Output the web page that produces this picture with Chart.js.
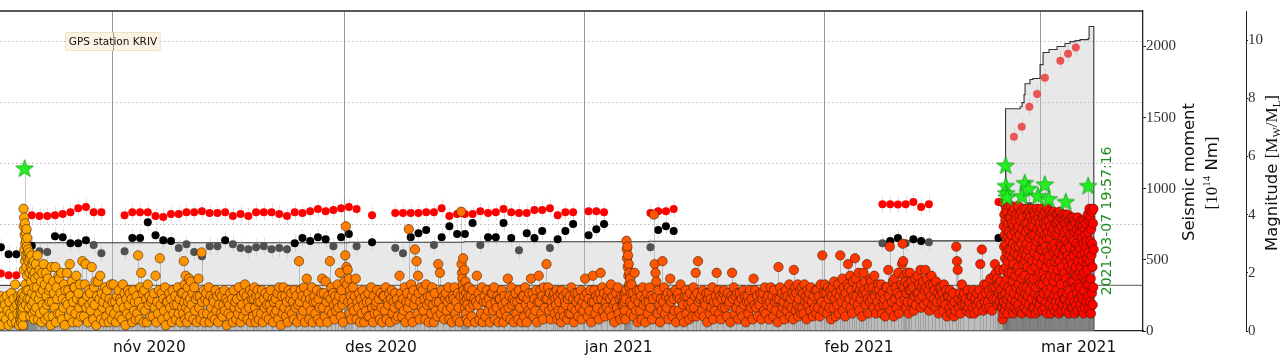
<!DOCTYPE html>
<html><head><meta charset="utf-8">
<script src="https://cdn.jsdelivr.net/npm/chart.js"></script>
<style>html,body{margin:0;padding:0;background:#fff}canvas{display:block}</style>
</head><body>
<canvas id="c" width="1288" height="360"></canvas>
<script>
// ---------- data ----------
// time unit: days since 2020-11-01 00:00
const monthDays = [0, 30, 61, 92, 120];
const monthLabels = ['nóv 2020', 'des 2020', 'jan 2021', 'feb 2021', 'mar 2021'];
const momentTicks = [0, 500, 1000, 1500, 2000];
const magTicks = [0, 2, 4, 6, 8, 10];
const gpsGridTicks = [0, 20, 40, 60, 80];
const xRange = [-14.61, 133.19];
const endDay = 126.83;
const endLabel = '2021-03-07 19:57:16';
const gpsLabel = 'GPS station KRIV';
const gpsLabelAt = [0, 80];

// earthquake magnitudes, one list per day (first day of each block given)
const octStart = -15;
const magOct = [
[0.3,1.0,0.6,1.2,0.2,0.8,0.5,1.1],
[0.9,0.4,1.2,0.7,0.2,1.0,0.6,1.3,0.3],
[0.5,1.1,0.8,1.6,0.3,0.9,0.6,1.2,0.2,1.0],
[0.4,1.0,0.6,1.2,0.3,0.8,0.5,1.1,0.7,0.9,0.4,1.3,0.6,1.0,0.2,0.8,1.1,0.5,4.2,3.6,2.1,3.9,2.8,1.2,3.3,3.7,2.4,3.0,1.6,3.4,2.6,0.9,3.1,2.2,3.5,1.4,2.9,1.9,3.2,2.5,1.1,2.7],
[2.8,1.4,2.4,0.8,2.7,2.0,1.1,2.5,0.5,2.2,1.7,2.6,0.9,2.1,1.3,2.3,0.6,1.9,1.0,2.4,0.4,1.5,2.0,0.7,1.8,1.2],
[2.3,0.8,1.5,2.6,0.4,1.9,1.1,2.1,0.6,1.3,1.7,0.3,2.0,0.9,1.4],
[2.3,0.7,1.6,0.4,2.0,1.2,0.9,1.8,0.5,1.4,1.0,1.5,0.2],
[2.2,1.0,0.5,1.7,1.3,0.8,2.2,0.3,1.5,1.1,0.6,1.9],
[1.8,0.6,1.3,2.0,0.4,1.1,0.8,1.6,0.2,1.4,1.0],
[2.0,0.9,1.4,0.5,2.3,1.2,0.7,1.7,0.3,1.0,1.5],
[1.5,0.6,1.9,1.1,0.3,1.3,0.8,1.6,0.5,1.0],
[2.4,1.0,0.5,1.6,2.3,0.8,1.2,0.3,1.4,0.9],
[1.3,0.7,2.2,1.0,0.4,1.5,0.9,1.7,0.2,1.2],
[1.7,0.6,1.1,1.9,0.4,1.3,0.8,1.0,0.3,1.5],
[1.2,0.5,1.4,0.9,0.3,1.1,0.7,1.6,0.4,1.0]
];
const novStart = 0;
const magNov = [
[1.6,0.6,1.0,0.3,1.2,0.8,1.4,0.5,1.1],
[1.0,0.4,1.6,0.8,1.3,0.2,1.1,0.6,1.4],
[0.9,1.3,0.5,1.1,0.3,1.4,0.7,1.0,0.4],
[1.2,0.6,2.6,1.0,0.4,1.5,2.0,0.8,1.3,0.3],
[1.4,0.7,1.1,0.3,1.6,0.9,1.2,0.5,1.0],
[1.1,0.5,1.3,0.8,1.9,0.3,1.0,0.6,1.4],
[2.5,0.9,1.3,0.4,1.1,0.7,1.5,0.2,1.0],
[1.0,0.5,1.3,0.8,1.1,0.3,1.4,0.6,0.9],
[1.2,0.4,0.9,1.5,0.6,1.1,0.3,1.3,0.8],
[1.3,0.6,2.4,1.0,1.6,0.4,1.9,0.8,1.2,0.3,1.5,1.0,0.7,1.8,0.5,1.1],
[1.7,0.9,1.3,0.4,1.5,0.7,1.1,0.3,1.2],
[1.8,0.8,1.2,0.4,2.7,1.0,0.6,1.4,0.3,1.1],
[1.3,0.6,1.0,1.5,0.3,1.2,0.8,0.5,1.1],
[1.0,0.4,1.4,0.7,1.2,0.3,0.9,1.3,0.6],
[1.2,0.5,0.9,1.4,0.7,1.1,0.2,1.0,0.6],
[0.9,1.3,0.5,1.1,0.3,1.4,0.8,1.0,0.4],
[1.1,0.6,1.5,0.8,0.3,1.2,0.9,0.5,1.3],
[1.6,0.7,1.2,0.4,1.0,0.8,1.4,0.3,1.1],
[1.3,0.5,1.1,1.5,0.8,0.3,1.2,0.6,1.4,1.0,0.4,1.2],
[1.0,0.6,1.4,0.3,1.1,0.8,1.3,0.5,0.9],
[1.2,0.4,0.9,1.4,0.7,1.1,0.3,1.0,0.6],
[1.1,0.7,1.3,0.4,1.5,0.9,0.2,1.2,0.6],
[1.5,0.8,1.2,0.5,1.0,0.3,1.4,0.7,1.1],
[1.3,0.6,1.0,0.4,1.4,0.8,1.2,0.3,0.9],
[2.4,1.0,1.4,0.5,1.2,0.7,1.5,0.3,1.1],
[1.8,0.9,1.3,0.4,1.1,0.7,1.5,0.3,1.0],
[1.2,0.6,1.0,1.4,0.4,1.1,0.8,0.3,1.3],
[1.8,0.8,1.3,0.5,1.7,1.0,0.3,1.2,0.7],
[2.4,1.1,1.5,0.6,1.3,0.9,0.4,1.2,0.7,1.0],
[1.6,0.8,1.2,2.0,0.5,1.4,0.9,0.3,1.1,1.7]
];
const decStart = 30;
const magDec = [
[2.6,3.6,2.2,1.6,2.1,1.0,1.8,0.6,1.4,1.2,0.4,1.0,0.8],
[1.5,0.7,1.2,1.8,0.4,1.0,0.8,1.3,0.3],
[1.1,0.6,1.4,0.9,0.3,1.2,0.7,1.0,0.5],
[1.3,0.5,1.0,1.5,0.8,0.3,1.2,0.6,0.9],
[1.0,1.4,0.6,1.1,0.4,1.3,0.8,0.3,1.2],
[1.2,0.7,1.5,0.4,1.0,0.9,1.3,0.3,1.1],
[1.4,0.6,1.0,0.8,1.3,0.4,1.1,0.5,0.9],
[1.9,0.9,1.3,0.5,1.1,0.7,1.5,0.3,1.0],
[1.3,0.8,3.5,1.0,0.5,1.6,1.2,0.3,1.4,0.9],
[2.8,1.1,2.4,0.6,1.9,1.3,0.4,1.0,1.5,0.8],
[1.4,0.7,1.1,0.4,1.6,0.9,1.2,0.3,1.0],
[1.2,0.6,1.5,0.9,0.3,1.3,0.7,1.0,0.5],
[2.3,1.0,2.0,0.6,1.4,0.8,1.2,0.4,1.1],
[1.3,0.7,1.0,1.5,0.4,1.1,0.8,0.3,1.2],
[1.1,1.5,0.6,1.0,0.4,1.3,0.8,0.3,1.2],
[4.1,2.3,2.0,1.8,1.6,2.5,1.4,1.2,2.1,1.0,0.8,1.7,0.6,1.3,0.4,1.1,0.9,1.5,0.3,1.2],
[1.5,0.8,1.2,0.5,1.4,0.9,1.1,0.3,1.0],
[1.9,0.9,1.3,0.4,1.1,0.6,1.5,0.3,1.0],
[1.2,0.5,1.0,1.4,0.7,1.1,0.3,0.9,1.3],
[1.3,0.7,1.5,0.4,1.0,0.8,1.2,0.3,1.1],
[1.1,0.6,1.4,0.9,0.3,1.2,0.7,1.0,0.5],
[1.8,0.8,1.2,0.4,1.5,0.9,1.1,0.3,1.0],
[1.3,0.6,1.0,0.4,1.4,0.8,1.1,0.3,1.2],
[1.2,0.5,1.5,0.9,0.3,1.1,0.7,1.3,0.6],
[1.8,0.9,1.3,0.5,1.1,0.7,1.4,0.3,1.0],
[1.9,1.0,1.4,0.6,1.2,0.4,1.5,0.8,1.1],
[2.3,1.1,1.5,0.7,1.3,0.4,1.0,0.8,1.2],
[1.3,0.6,1.1,0.9,1.4,0.4,1.2,0.7,1.0,0.5,1.3,0.3],
[1.4,0.7,1.2,0.5,1.0,0.9,1.3,0.4,1.1,0.6],
[1.2,0.6,1.5,0.8,1.1,0.3,1.3,0.7,1.0],
[1.3,0.5,1.1,0.8,1.4,0.4,1.0,0.7,1.2]
];
const janStart = 61;
const magJan = [
[1.8,0.9,1.3,0.5,1.1,0.7,1.4,0.3,1.0],
[1.9,1.0,1.4,0.6,1.2,0.8,1.1,0.4,1.3],
[2.0,1.1,1.5,0.7,1.3,0.5,1.0,0.8,1.2],
[1.4,0.7,1.1,1.6,0.5,1.2,0.9,0.3,1.0],
[1.3,0.8,1.5,0.6,1.1,0.4,1.2,0.9,1.0],
[0.9,1.2,0.5,1.0,0.7,1.3,0.4,1.1,1.4,3.1,2.8,2.5,2.9,2.2,2.6,1.9,2.3,1.6,2.0,1.5,1.8,1.0,1.3,0.6],
[1.6,0.9,1.3,0.5,2.0,1.1,0.7,1.4,0.3,1.0],
[1.4,0.7,1.2,0.4,1.5,0.9,1.1,0.3,1.0],
[1.3,0.6,1.0,1.5,0.8,1.2,0.4,1.1,4.0],
[2.3,2.0,1.7,1.2,0.6,1.4,0.9,0.3,1.1,0.7],
[2.4,1.0,1.5,0.6,1.2,0.8,1.3,0.4,1.1],
[1.8,1.0,1.3,0.5,1.1,0.7,1.4,0.3,1.2],
[1.3,0.7,1.1,1.6,0.5,1.0,0.9,0.3,1.2],
[1.4,0.6,1.2,0.9,0.4,1.3,0.8,1.0,0.5],
[1.5,0.8,1.2,2.0,0.5,1.3,2.4,1.0,0.6,1.1],
[1.2,0.7,1.4,0.5,1.0,0.9,1.3,0.3,1.1],
[1.3,0.6,1.1,0.8,1.5,0.4,1.0,0.7,1.2],
[2.0,1.0,1.4,0.6,1.2,0.4,1.1,0.8,1.3],
[1.4,0.8,1.1,0.5,1.3,0.9,1.0,0.3,1.2],
[2.0,1.1,1.5,0.6,1.2,0.8,1.3,0.4,1.0],
[1.3,0.7,1.1,0.5,1.4,0.9,1.2,0.3,1.0],
[1.2,0.6,1.0,1.4,0.8,1.1,0.4,1.8,0.9],
[1.4,0.8,1.2,0.5,1.0,0.9,1.3,0.4,1.1],
[1.3,0.7,1.5,0.6,1.1,0.9,1.2,0.4,1.0],
[1.5,0.8,1.2,0.5,1.4,1.0,0.7,1.1,0.3],
[2.2,1.1,1.5,0.6,1.3,0.8,1.0,0.4,1.2],
[1.4,0.7,1.2,0.9,1.6,0.5,1.1,0.8,1.3,0.4],
[2.1,1.2,1.5,0.7,1.3,0.9,1.6,0.5,1.1,0.8,1.4,0.6],
[1.5,0.8,1.3,0.6,1.6,1.0,1.2,0.4,1.4,0.9,1.1],
[1.3,0.7,1.5,1.0,0.5,1.2,0.8,1.4,0.6],
[1.4,0.8,1.2,0.5,1.6,1.0,2.6,0.7,1.3]
];
const febStart = 92;
const magFeb = [
[1.6,0.9,1.3,0.6,1.5,1.1,0.8,1.4,0.4,1.2],
[1.5,0.8,1.7,1.1,0.5,1.3,0.9,1.6,0.6,1.2],
[2.6,1.4,1.0,1.8,0.7,1.5,1.2,0.5,1.3,0.9,1.6],
[2.3,1.5,1.1,1.9,0.8,1.4,0.6,1.7,1.2,1.0,2.5],
[1.8,1.2,1.5,0.9,2.0,0.7,1.4,1.1,1.6,0.5,1.3],
[2.0,1.4,1.7,0.9,1.3,2.3,1.1,0.6,1.5,1.0,1.8],
[1.7,1.1,1.5,0.8,1.9,1.2,0.6,1.4,1.0,1.6],
[1.4,0.8,1.2,1.6,0.6,1.3,0.9,1.1,0.5,1.5],
[1.5,0.9,2.1,1.2,2.9,0.7,1.4,1.0,1.7,0.5],
[1.8,1.1,1.5,0.8,1.3,2.0,0.6,1.2,1.0,1.6],
[2.3,3.0,2.4,1.5,1.9,1.1,1.7,0.8,1.3,2.0,1.0,1.6,0.6,1.4],
[2.0,1.4,1.7,1.0,1.5,0.7,1.2,1.8,0.9,1.3],
[1.9,1.3,1.6,1.1,2.1,0.8,1.5,1.2,1.7,0.9,1.4],
[2.1,1.5,1.8,1.0,1.4,0.7,1.6,1.2,1.9,0.9],
[1.6,1.1,1.4,0.8,1.7,1.0,1.3,0.6,1.5,1.2],
[1.5,1.0,1.3,0.7,1.6,1.1,0.9,1.4,0.5,1.2],
[1.2,0.8,1.4,0.6,1.1,0.9,1.3,0.5,1.0,0.7],
[2.9,2.4,2.1,1.1,0.8,1.3,0.6,1.0,1.6,0.9,1.2],
[1.3,0.9,1.1,0.7,1.4,0.8,1.0,0.6,1.2],
[1.2,0.8,1.4,0.6,1.1,0.9,1.3,0.7,1.0],
[1.4,2.3,0.9,2.8,1.2,0.7,1.6,1.0,1.3,0.8],
[1.6,1.0,1.4,0.8,1.8,1.2,0.7,1.5,1.1,1.9],
[2.3,1.5,2.0,1.1,1.8,0.9,1.6,1.3,2.1,1.0,1.7,1.4,0.8,1.2],
[0.8,0.4,1.2,0.6,1.0,4.4,2.1,3.6,1.0,2.9,4.0,1.6,3.3,0.7,2.5,3.8,1.3,3.0,2.2,4.2,0.9,2.7,3.5,1.8,4.1,1.1,3.2,2.4,0.6,3.7,1.5,2.8,4.3,2.0,3.4,1.2,3.9,2.6,0.8,3.1],
[3.9,1.4,2.8,4.3,0.9,3.3,2.0,3.7,1.1,2.5,4.1,1.7,3.0,0.6,2.3,3.6,1.3,4.2,2.7,0.8,3.4,1.9,3.8,1.0,2.9,4.0,1.5,3.2,2.1,0.7,3.5,2.6],
[4.3,2.2,0.9,3.6,1.6,2.9,4.0,1.2,3.3,2.0,0.7,3.8,2.5,1.4,4.1,3.0,1.8,0.6,3.5,2.7,1.1,3.9,2.3,1.5,3.2,4.2,0.8,2.8,1.9,3.7,1.3,2.4],
[1.0,3.4,2.6,4.2,1.5,3.0,0.7,3.7,2.2,4.0,1.2,2.8,3.5,0.9,1.8,4.1,2.5,3.2,1.4,3.9,0.6,2.9,1.7,3.6,2.1,4.2,1.1,3.3,2.4,0.8,3.8,1.6],
[3.6,1.8,4.1,0.8,2.7,3.3,1.3,4.0,2.2,0.6,3.8,2.9,1.5,3.1,4.2,1.0,2.4,3.5,1.9,0.7,3.9,2.6,1.2,3.2,4.1,2.0,0.9,3.7,1.6,2.8,3.4,1.1]
];
const marStart = 120;
const magMar = [
[2.3,4.2,1.1,3.5,2.8,0.7,3.9,1.6,3.1,4.0,2.0,1.3,3.7,2.5,0.8,3.3,4.1,1.8,2.9,3.6,1.0,2.2,3.8,1.4,0.6,3.2,2.7,4.2,1.7,3.4,2.4,1.2],
[3.8,1.3,2.6,4.1,0.9,3.2,1.9,3.6,2.3,0.6,4.0,1.5,2.9,3.4,1.1,3.9,2.1,0.8,3.5,2.7,1.7,4.1,1.2,3.0,2.4,0.7,3.7,1.9,3.3,2.8,1.0,4.0],
[1.4,3.7,2.5,0.8,4.0,2.1,3.3,1.2,3.8,2.7,0.6,3.5,1.8,4.1,2.4,1.0,3.0,3.9,1.6,2.9,0.7,3.6,2.2,1.3,4.0,2.6,3.2,0.9,3.8,1.9,2.8,1.1],
[3.4,2.0,4.0,1.1,2.8,3.7,0.7,3.1,1.8,3.9,2.4,1.3,3.5,0.9,2.6,4.0,1.6,3.0,2.2,0.6,3.8,1.4,2.9,3.3,1.0,3.6,2.5,1.7,3.9,2.1,0.8,3.2],
[1.2,3.6,2.3,0.8,3.9,1.7,3.1,2.6,1.0,3.8,2.0,0.6,3.4,2.8,1.5,3.7,2.2,0.9,3.0,1.9,3.5,1.3,2.7,0.7,3.9,2.4,1.6,3.3,1.1,2.9,3.6,2.0],
[3.7,1.5,2.8,0.9,3.4,2.2,3.8,1.2,2.6,0.7,3.2,1.9,3.6,2.4,1.1,3.0,0.6,3.8,2.0,1.4,3.5,2.7,0.8,3.3,1.7,2.9,3.7,1.0,2.3,3.1,1.6,2.5],
[2.1,4.0,1.2,3.4,2.7,0.8,3.8,1.6,4.2,2.4,1.0,3.1,3.9,1.8,0.6,3.5,2.6,4.1,1.3,3.0,2.2,0.9,3.7,1.5,4.2,2.8]
];

// largest events (stars)
const starDays = [-11.43, 115.42, 115.45, 115.5, 115.6, 117.55, 117.9, 118.4, 119.6, 120.5, 121.0, 123.2, 126.1];
const starMags = [5.6, 5.7, 5.0, 4.75, 4.6, 4.65, 5.1, 4.9, 4.65, 5.05, 4.55, 4.45, 5.0];

// cumulative seismic moment [10^14 Nm]
const cumDays   = [-14.61, -11.43, 30.5, 45.4, 69.3, 100.4, 114.3, 115.42, 117.3, 117.55, 117.81, 117.94, 118.58, 118.97, 119.88, 120.27, 121.04, 122.08, 123.11, 123.76, 124.40, 125.05, 126.09, 126.22, 126.83, 126.83];
const cumMoment = [320, 620, 624, 628, 631, 634, 636, 1563, 1577, 1606, 1662, 1739, 1768, 1775, 1873, 1958, 1979, 2000, 2021, 2035, 2042, 2049, 2056, 2141, 2141, 0];

// GPS station KRIV daily solutions (mm)
const gpsDays = [-14.5,-13.5,-12.5,-10.5,-9.5,-8.5,-7.5,-6.5,-5.5,-4.5,-3.5,-2.5,-1.5,
 1.5,2.5,3.5,4.5,5.5,6.5,7.5,8.5,9.5,10.5,11.5,12.5,13.5,14.5,15.5,16.5,17.5,18.5,19.5,20.5,21.5,22.5,23.5,24.5,25.5,26.5,27.5,28.5,29.5,30.5,31.5,
 33.5,
 36.5,37.5,38.5,39.5,40.5,41.5,42.5,43.5,44.5,45.5,46.5,47.5,48.5,49.5,50.5,51.5,52.5,53.5,54.5,55.5,56.5,57.5,58.5,59.5,
 61.5,62.5,63.5, 69.5,70.5,71.5,72.5, 99.5,100.5,101.5,102.5,103.5,104.5,105.5, 114.5,115.5,116.5,118.5,124.5];
const gpsRed = [3.9,3.3,3.3,23.0,22.7,22.7,23.0,23.4,24.0,25.3,25.7,24.0,24.0,
 23.0,24.0,24.0,24.0,22.7,22.4,23.4,23.4,24.0,24.0,24.3,23.7,23.7,24.0,22.7,23.4,22.7,24.0,24.0,24.0,23.4,22.7,24.0,23.7,24.3,25.0,24.3,24.7,25.3,25.7,25.0,
 23.0,
 23.7,23.7,23.7,23.7,24.0,24.0,25.3,22.7,23.4,23.4,23.4,24.3,23.7,24.0,25.0,24.0,23.7,23.7,24.7,24.7,25.3,23.0,24.0,24.0,
 24.3,24.3,24.0, 23.7,24.3,24.3,25.0, 26.6,26.6,26.5,26.6,27.3,25.7,26.6, 27.3,null,null,null,null];
const gpsBlack = [12.5,10.2,10.2,13.0,null,null,16.1,15.8,13.8,13.8,14.8,null,null,
 null,15.5,15.5,20.7,16.4,14.8,14.5,null,null,null,null,null,null,14.8,null,null,null,null,null,null,null,null,13.8,15.5,14.5,15.8,15.1,null,15.8,16.8,null,
 14.1,
 null,null,15.8,17.1,18.1,null,15.8,19.4,16.8,16.8,20.4,null,15.8,15.8,20.4,15.5,null,17.1,15.5,17.8,null,15.1,17.8,20.1,
 16.4,18.4,20.1, null,18.1,19.4,17.8, null,14.5,15.5,null,15.1,14.5,null, 15.5,null,null,null,null];
const gpsGrey = [null,null,null,null,11.2,10.9,null,null,null,null,null,13.2,10.5,
 11.2,null,null,null,null,null,null,12.2,13.5,10.9,9.5,12.8,12.8,null,13.5,12.2,11.8,12.5,12.8,11.8,12.2,11.8,null,null,null,null,null,12.8,null,null,12.8,
 null,
 12.2,10.5,null,null,null,13.2,null,null,null,null,null,13.2,null,null,null,null,11.5,null,null,null,12.2,null,null,null,
 null,null,null, 12.5,null,null,null, 13.8,null,null,13.8,null,null,14.1, null,20.4,20.4,26.0,21.4];
const gpsMarDays = [116.5, 117.5, 118.5, 119.5, 120.5, 122.5, 123.5, 124.5];
const gpsMarRed  = [48.7, 52.0, 58.6, 62.8, 68.1, 73.7, 76.0, 78.0];
const gpsZero = 0;
const gpsErr = 2.8;

// ---------- build points ----------
function buildQuakes() {
  const blocks = [[octStart, magOct], [novStart, magNov], [decStart, magDec], [janStart, magJan], [febStart, magFeb], [marStart, magMar]];
  const pts = [];
  blocks.forEach(([start, days]) => days.forEach((mags, j) => {
    const d = start + j;
    const span = Math.min(1, endDay - d);
    mags.forEach((m, i) => pts.push({x: d + (i + 0.5) / mags.length * span, y: m}));
  }));
  return pts;
}
const quakePts = buildQuakes();
const starPts = starDays.map((d, i) => ({x: d, y: starMags[i]}));
const pairs = (xs, ys) => xs.map((x, i) => ({x, y: ys[i]})).filter(p => p.y !== null);
const fixedTicks = vals => s => { s.ticks = vals.map(v => ({value: v})); };

function quakeColor(x) {
  const t = Math.min(1, Math.max(0, (x - xRange[0]) / (endDay - xRange[0])));
  const g = Math.round(170 * Math.pow(1 - t, 0.75));
  return 'rgb(255,' + g + ',0)';
}
function makeStar() {
  const s = 22, c = document.createElement('canvas');
  c.width = s; c.height = s;
  const g = c.getContext('2d');
  const R = 9.3, r = 3.8;
  g.beginPath();
  for (let i = 0; i < 10; i++) {
    const a = -Math.PI / 2 + i * Math.PI / 5, rr = i % 2 ? r : R;
    g.lineTo(s / 2 + rr * Math.cos(a), s / 2 + 0.9 + rr * Math.sin(a));
  }
  g.closePath();
  g.fillStyle = '#22ee22'; g.fill();
  g.strokeStyle = '#149a14'; g.lineWidth = 0.8; g.stroke();
  return c;
}

// ---------- plugins ----------
const layerPlugin = {
  id: 'layers',
  beforeDatasetsDraw(chart) {
    const {ctx} = chart, xs = chart.scales.x, yg = chart.scales.yG;
    const cx = xs.getPixelForValue(gpsLabelAt[0]), cy = yg.getPixelForValue(gpsLabelAt[1]);
    ctx.save();
    ctx.font = '10.5px "DejaVu Sans"';
    const w = ctx.measureText(gpsLabel).width + 6, h = 18;
    ctx.fillStyle = '#fdf3e4';
    ctx.fillRect(cx - w / 2, cy - h / 2, w, h);
    ctx.strokeStyle = 'rgba(235,215,185,0.9)'; ctx.lineWidth = 0.8;
    ctx.strokeRect(cx - w / 2, cy - h / 2, w, h);
    ctx.fillStyle = '#111'; ctx.textAlign = 'center'; ctx.textBaseline = 'middle';
    ctx.fillText(gpsLabel, cx, cy + 0.5);
    ctx.strokeStyle = 'rgba(120,120,120,0.75)'; ctx.lineWidth = 1;
    monthDays.forEach(v => {
      const px = Math.round(xs.getPixelForValue(v)) + 0.5;
      if (px > cx - w / 2 && px < cx + w / 2) { ctx.beginPath(); ctx.moveTo(px, cy - h / 2); ctx.lineTo(px, cy + h / 2); ctx.stroke(); }
    });
    ctx.restore();
  },
  beforeDatasetDraw(chart, args) {
    const ds = chart.data.datasets[args.index];
    const {ctx, chartArea: a} = chart, xs = chart.scales.x;
    if (ds.label === 'gpsGrey') {
      const yg = chart.scales.yG;
      ctx.save();
      ctx.beginPath(); ctx.rect(a.left, a.top, a.right - a.left, a.bottom - a.top); ctx.clip();
      ctx.strokeStyle = 'rgba(170,170,170,0.35)'; ctx.lineWidth = 1;
      const all = [...pairs(gpsDays, gpsRed), ...pairs(gpsDays, gpsBlack), ...pairs(gpsDays, gpsGrey), ...pairs(gpsMarDays, gpsMarRed)];
      all.forEach(p => {
        const px = Math.round(xs.getPixelForValue(p.x)) + 0.5;
        ctx.beginPath(); ctx.moveTo(px, yg.getPixelForValue(p.y - gpsErr)); ctx.lineTo(px, yg.getPixelForValue(p.y + gpsErr)); ctx.stroke();
      });
      ctx.restore();
    }
    if (ds.label === 'quakes') {
      const ym = chart.scales.yMag, y0 = ym.getPixelForValue(0);
      ctx.save();
      ctx.beginPath(); ctx.rect(a.left, a.top, a.right - a.left, a.bottom - a.top); ctx.clip();
      ctx.strokeStyle = 'rgba(110,110,110,0.36)'; ctx.lineWidth = 1;
      quakePts.concat(starPts).forEach(p => {
        const px = Math.round(xs.getPixelForValue(p.x)) + 0.5;
        ctx.beginPath(); ctx.moveTo(px, ym.getPixelForValue(p.y)); ctx.lineTo(px, y0); ctx.stroke();
      });
      ctx.restore();
    }
  },
  afterDraw(chart) {
    const {ctx, chartArea: a} = chart, xs = chart.scales.x, ym = chart.scales.yMag, yM = chart.scales.yM;
    ctx.save();
    ctx.strokeStyle = '#222'; ctx.lineWidth = 1.3;
    ctx.beginPath(); ctx.moveTo(a.left, a.top); ctx.lineTo(a.right, a.top); ctx.stroke();
    const cy = (a.top + a.bottom) / 2;
    const rot = (cx, cy0, parts, base) => {
      ctx.save(); ctx.translate(cx, cy0); ctx.rotate(-Math.PI / 2);
      ctx.textAlign = 'left'; ctx.textBaseline = 'alphabetic';
      let tot = 0;
      parts.forEach(p => { ctx.font = p.f; p.w = ctx.measureText(p.t).width; tot += p.w; });
      let x = -tot / 2;
      parts.forEach(p => { ctx.font = p.f; ctx.fillStyle = p.c || '#111'; ctx.fillText(p.t, x, base + (p.dy || 0)); x += p.w; });
      ctx.restore();
    };
    const sans = '16.5px "DejaVu Sans"', serif = '17px "Liberation Serif"', small = '11px "Liberation Serif"';
    rot(yM.left + 44.5, cy + 1, [{t: 'Seismic moment', f: sans}], 6);
    rot(yM.left + 68, cy + 2, [{t: '[10', f: serif}, {t: '14', f: small, dy: -7}, {t: ' Nm', f: sans}, {t: ']', f: serif}], 6);
    rot(ym.left + 25, cy + 2, [{t: 'Magnitude ', f: sans}, {t: '[M', f: serif}, {t: 'W', f: small, dy: 3}, {t: '/M', f: serif}, {t: 'L', f: small, dy: 3}, {t: ']', f: serif}], 6);
    ctx.save();
    ctx.translate(xs.getPixelForValue(endDay) + 14, ym.getPixelForValue(1.23));
    ctx.rotate(-Math.PI / 2);
    ctx.font = '14px "DejaVu Sans"'; ctx.fillStyle = '#1e8c1e'; ctx.textAlign = 'left'; ctx.textBaseline = 'middle';
    ctx.fillText(endLabel, 0, 0);
    ctx.restore();
    ctx.restore();
  }
};

// ---------- chart ----------
new Chart(document.getElementById('c'), {
  type: 'scatter',
  data: {
    datasets: [
      {label: 'cum', type: 'line', yAxisID: 'yM', data: cumDays.map((d, i) => ({x: d, y: cumMoment[i]})),
       stepped: true, fill: 'origin', backgroundColor: 'rgba(200,200,200,0.42)', borderColor: '#333', borderWidth: 1.1, pointRadius: 0, order: 10, clip: 0},
      {label: 'gpsZero', type: 'line', yAxisID: 'yG', data: [{x: xRange[0], y: gpsZero}, {x: xRange[1], y: gpsZero}],
       borderColor: 'rgba(80,80,80,0.9)', borderWidth: 1, pointRadius: 0, fill: false, order: 9},
      {label: 'gpsGrey', yAxisID: 'yG', data: pairs(gpsDays, gpsGrey), backgroundColor: '#505050', borderWidth: 0, pointRadius: 4, order: 8, clip: 0},
      {label: 'gpsBlack', yAxisID: 'yG', data: pairs(gpsDays, gpsBlack), backgroundColor: '#000', borderWidth: 0, pointRadius: 4, order: 7, clip: 0},
      {label: 'gpsRed', yAxisID: 'yG', data: pairs(gpsDays, gpsRed), backgroundColor: '#ff0000', borderWidth: 0, pointRadius: 4, order: 6, clip: 0},
      {label: 'gpsRedMar', yAxisID: 'yG', data: pairs(gpsMarDays, gpsMarRed), backgroundColor: 'rgba(235,60,60,0.85)', borderWidth: 0, pointRadius: 4, order: 6, clip: 0},
      {label: 'quakes', yAxisID: 'yMag', data: quakePts,
       backgroundColor: c => quakeColor(c.raw ? c.raw.x : 0), borderColor: 'rgba(60,25,0,0.8)', borderWidth: 0.7, pointRadius: 4.7, order: 2, clip: 0},
      {label: 'stars', yAxisID: 'yMag', data: starPts, pointStyle: makeStar(), pointRadius: 10, order: 1, clip: 0}
    ]
  },
  options: {
    responsive: false, animation: false, events: [],
    layout: {autoPadding: false, padding: {top: 11, left: 0, right: 0, bottom: 0}},
    plugins: {legend: {display: false}, tooltip: {enabled: false}},
    scales: {
      x: {type: 'linear', position: 'bottom', min: xRange[0], max: xRange[1],
          afterBuildTicks: fixedTicks(monthDays),
          ticks: {callback: (v, i) => monthLabels[i], align: 'start', autoSkip: false, maxRotation: 0,
                  font: {family: 'DejaVu Sans', size: 15.5}, color: '#111', padding: 8},
          grid: {color: 'rgba(120,120,120,0.75)', lineWidth: 1, drawTicks: false},
          border: {color: '#222', width: 1.3},
          afterFit: s => { s.height = 29; s.paddingLeft = 0; s.paddingRight = 0; }},
      yG: {position: 'left', min: -15, max: 90,
           afterBuildTicks: fixedTicks(gpsGridTicks),
           ticks: {display: false},
           grid: {color: 'rgba(150,150,150,0.9)', lineWidth: 0.8, drawTicks: false},
           border: {display: false, dash: [1.5, 2.5]},
           afterFit: s => { s.width = 0; s.paddingTop = 0; s.paddingBottom = 0; }},
      yM: {position: 'right', weight: 0, min: 0, max: 2250,
           afterBuildTicks: fixedTicks(momentTicks),
           ticks: {callback: v => String(v), font: {family: 'Liberation Serif', size: 15}, color: '#333', padding: 0},
           grid: {drawOnChartArea: false, tickLength: 3, color: '#222'},
           border: {color: '#222', width: 1.3},
           afterFit: s => { s.width = 103; }},
      yMag: {position: 'right', weight: 1, min: 0, max: 11,
             afterBuildTicks: fixedTicks(magTicks),
             ticks: {callback: v => String(v), font: {family: 'Liberation Serif', size: 15}, color: '#333', padding: 0},
             grid: {drawOnChartArea: false, tickLength: 2, color: '#222'},
             border: {color: '#222', width: 1},
             afterFit: s => { s.width = 42; }}
    }
  },
  plugins: [layerPlugin]
});
</script>
</body></html>
